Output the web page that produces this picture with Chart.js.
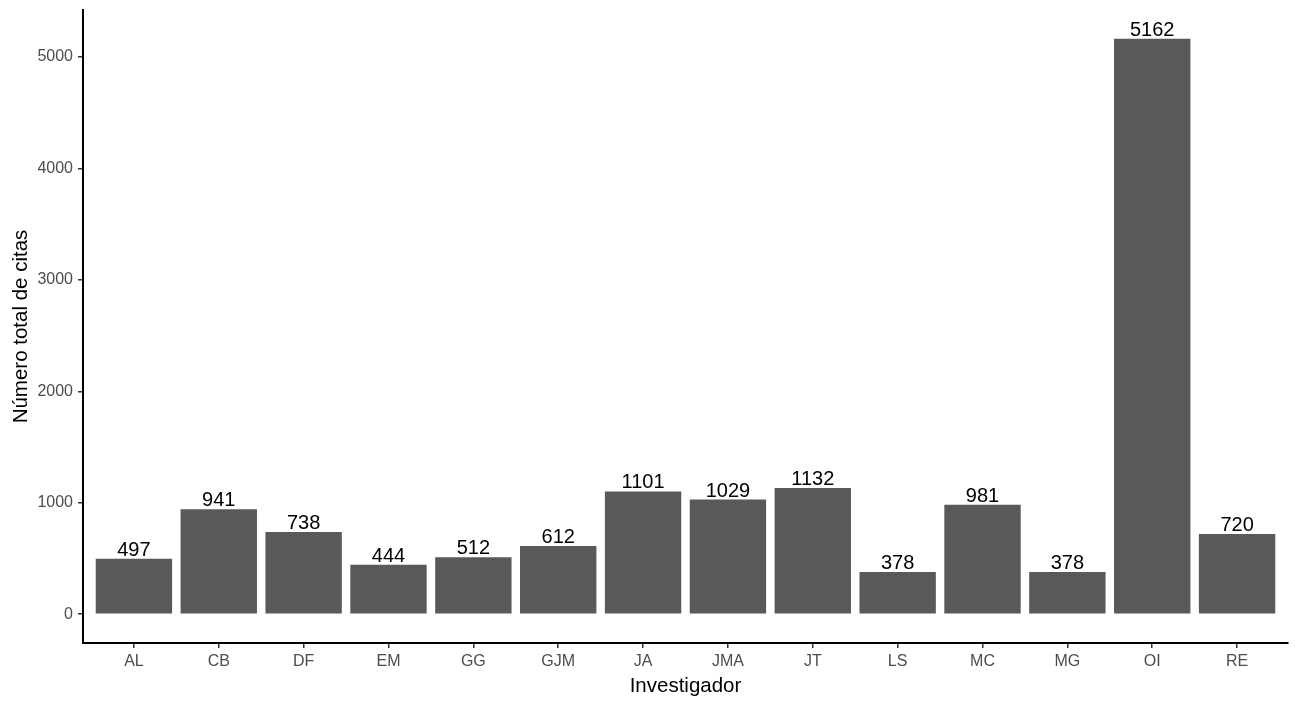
<!DOCTYPE html>
<html>
<head>
<meta charset="utf-8">
<script src="https://cdn.jsdelivr.net/npm/chart.js@4"></script>
<style>
  html, body { margin: 0; padding: 0; background: #fff; }
  #wrap { width: 1299px; height: 704px; }
</style>
</head>
<body>
<div id="wrap"><canvas id="chart" width="1299" height="704"></canvas></div>
<script>
// datos
const investigadores = ['AL', 'CB', 'DF', 'EM', 'GG', 'GJM', 'JA', 'JMA', 'JT', 'LS', 'MC', 'MG', 'OI', 'RE'];
const citas = [497, 941, 738, 444, 512, 612, 1101, 1029, 1132, 378, 981, 378, 5162, 720];
const yTicks = [0, 1000, 2000, 3000, 4000, 5000];

const FONT = "'Liberation Sans', Arial, sans-serif";

// etiquetas encima de cada barra
const barLabels = {
  id: 'barLabels',
  afterDatasetsDraw(chart) {
    const ctx = chart.ctx;
    const meta = chart.getDatasetMeta(0);
    ctx.save();
    ctx.font = '20px ' + FONT;
    ctx.fillStyle = '#000000';
    ctx.textAlign = 'center';
    ctx.textBaseline = 'alphabetic';
    meta.data.forEach((bar, i) => {
      ctx.fillText(String(citas[i]), bar.x, bar.y - 3);
    });
    ctx.restore();
  }
};

const ctx = document.getElementById('chart').getContext('2d');
new Chart(ctx, {
  type: 'bar',
  data: {
    datasets: [{
      data: investigadores.map((name, i) => ({ x: i + 1, y: citas[i] })),
      backgroundColor: '#595959',
      borderWidth: 0,
      barPercentage: 0.9,
      categoryPercentage: 1.0
    }]
  },
  options: {
    responsive: false,
    animation: false,
    layout: { padding: { left: 0, right: 11, top: 10, bottom: 0 } },
    plugins: {
      legend: { display: false },
      tooltip: { enabled: false }
    },
    scales: {
      x: {
        type: 'linear',
        min: 0.4,
        max: 14.6,
        offset: false,
        afterBuildTicks: (scale) => {
          scale.ticks = investigadores.map((n, i) => ({ value: i + 1 }));
        },
        afterFit: (scale) => {
          scale.height = 61;
          scale.paddingLeft = 0;
          scale.paddingRight = 0;
        },
        ticks: {
          autoSkip: false,
          maxRotation: 0,
          includeBounds: false,
          padding: 4,
          color: '#4D4D4D',
          font: { family: FONT, size: 16 },
          callback: (v) => investigadores[v - 1] || ''
        },
        grid: {
          display: true,
          offset: false,
          drawOnChartArea: false,
          drawTicks: true,
          tickLength: 5,
          color: '#333333',
          lineWidth: 1.5
        },
        border: { display: true, color: '#000000', width: 2 },
        title: {
          display: true,
          text: 'Investigador',
          color: '#000000',
          font: { family: FONT, size: 20.5 },
          padding: { top: 0, bottom: 5 }
        }
      },
      y: {
        min: -258,
        max: 5420,
        afterBuildTicks: (scale) => {
          scale.ticks = yTicks.map(v => ({ value: v }));
        },
        afterFit: (scale) => {
          scale.width = 83;
          scale.paddingTop = 0;
          scale.paddingBottom = 0;
        },
        ticks: {
          includeBounds: false,
          padding: 5,
          color: '#4D4D4D',
          font: { family: FONT, size: 16 },
          callback: (v) => String(v)
        },
        grid: {
          display: true,
          drawOnChartArea: false,
          drawTicks: true,
          tickLength: 5,
          color: '#333333',
          lineWidth: 1.5
        },
        border: { display: true, color: '#000000', width: 2 },
        title: {
          display: true,
          text: 'Número total de citas',
          color: '#000000',
          font: { family: FONT, size: 20.5 },
          padding: { top: 9, bottom: 0 }
        }
      }
    }
  },
  plugins: [barLabels]
});
</script>
</body>
</html>
